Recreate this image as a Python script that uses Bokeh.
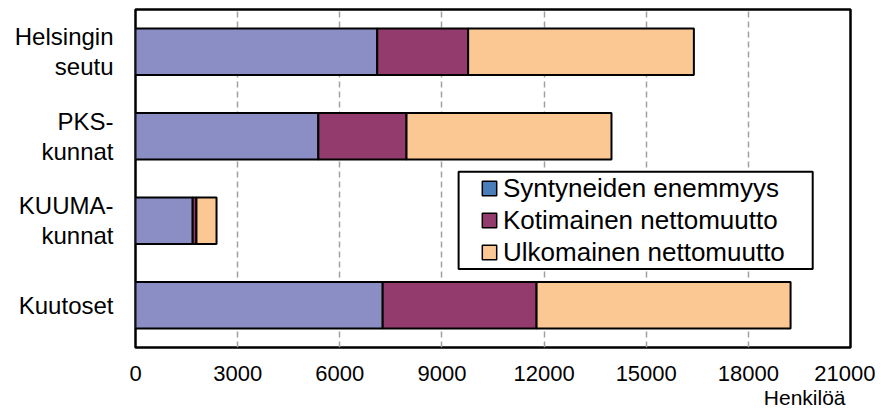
from bokeh.plotting import figure
from bokeh.models import ColumnDataSource, Legend, LegendItem, FixedTicker, BoxAnnotation, Title
from bokeh.embed import file_html
from bokeh.resources import INLINE

# ---- data ----
categories = ["Helsingin\nseutu", "PKS-\nkunnat", "KUUMA-\nkunnat", "Kuutoset"]
syntyneiden = [7100, 5370, 1680, 7260]
kotimainen = [2670, 2590, 110, 4520]
ulkomainen = [6630, 6020, 590, 7460]
series_names = ["Syntyneiden enemmyys", "Kotimainen nettomuutto", "Ulkomainen nettomuutto"]
bar_colors = ["#8b8ec4", "#943b6d", "#fbc793"]
legend_colors = ["#4a7ebb", "#943b6d", "#fbc793"]
x_ticks = [0, 3000, 6000, 9000, 12000, 15000, 18000, 21000]
unit_label = "Henkilöä"

FONT = "Liberation Sans"

ypos = [len(categories) - 1 - i for i in range(len(categories))]
source = ColumnDataSource(dict(y=ypos, cat=categories, s=syntyneiden, k=kotimainen, u=ulkomainen))

p = figure(frame_width=715, frame_height=338, x_range=(0, 21000), y_range=(-0.5, len(categories) - 0.5),
           output_backend="svg", toolbar_location=None,
           min_border_left=135, min_border_right=25, min_border_top=9, min_border_bottom=0)

p.hbar_stack(["s", "k", "u"], y="y", height=0.55, color=bar_colors, line_color="black",
             line_width=2, source=source)

# legend frame
p.add_layout(BoxAnnotation(left=9490, right=19890, bottom=0.43, top=1.58, fill_color="white",
                           fill_alpha=1, line_color="black", line_width=2, line_alpha=1))

# legend swatches (proxy renderers, hidden)
items = []
for name, c in zip(series_names, legend_colors):
    proxy = ColumnDataSource(dict(y=[ypos[0]], r=[syntyneiden[0]]))
    r = p.hbar(y="y", right="r", height=0.5, source=proxy, fill_color=c, line_color="black",
               line_width=1.5)
    r.visible = False
    items.append(LegendItem(label=name, renderers=[r]))
legend = Legend(items=items, location=(345, 79), glyph_width=18, glyph_height=18,
                label_standoff=5, label_text_font=FONT, label_text_font_size="26px",
                label_text_color="black", label_height=32, spacing=0, padding=0, margin=0,
                border_line_alpha=0, background_fill_alpha=0, inactive_fill_alpha=0)
p.add_layout(legend, "center")

# category axis
ya = p.yaxis[0]
ya.ticker = FixedTicker(ticks=ypos)
ya.major_label_overrides = {yv: cat for yv, cat in zip(ypos, categories)}
ya.axis_line_color = None
ya.major_tick_line_color = None
ya.minor_tick_line_color = None
ya.major_label_text_font = FONT
ya.major_label_text_font_size = "24px"
ya.major_label_text_color = "black"
ya.major_label_text_line_height = 1.1
ya.major_label_text_align = "center"
ya.major_label_standoff = 16

xa = p.xaxis[0]
xa.ticker = FixedTicker(ticks=x_ticks)
xa.axis_line_color = None
xa.major_tick_line_color = None
xa.minor_tick_line_color = None
xa.major_label_text_font = FONT
xa.major_label_text_font_size = "22px"
xa.major_label_text_color = "black"
xa.major_label_standoff = 12

p.add_layout(Title(text=unit_label, align="right", text_font=FONT, text_font_size="21px",
                   text_font_style="normal", text_color="black", offset=5, standoff=0,
                   text_line_height=1.0), "below")

p.ygrid.visible = False
p.xgrid.ticker = FixedTicker(ticks=x_ticks)
p.xgrid.grid_line_color = "#a0a0a0"
p.xgrid.grid_line_dash = "6 4"
p.xgrid.grid_line_width = 1.5

p.outline_line_color = "black"
p.outline_line_width = 2.5
p.outline_line_alpha = 1

open("out.html", "w").write(file_html(p, INLINE))
